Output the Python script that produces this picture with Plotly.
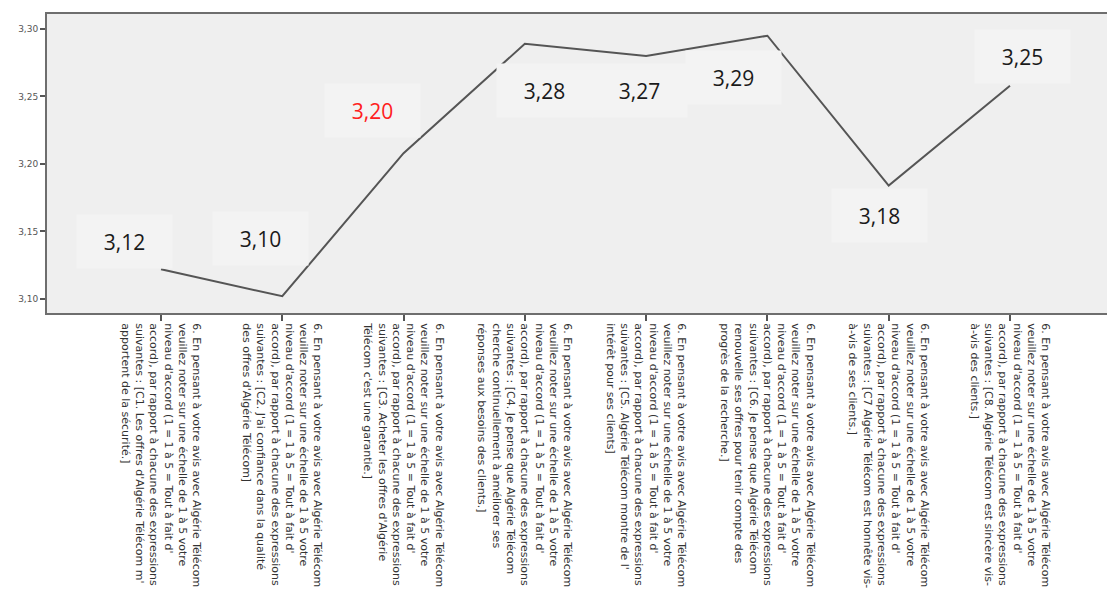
import plotly.graph_objects as go

categories = [
    "6. En pensant à votre avis avec Algérie Télécom<br>veuillez noter sur une échelle de 1 à 5 votre<br>niveau d'accord (1 = 1 à 5 = Tout à fait d'<br>accord), par rapport à chacune des expressions<br>suivantes : [C1. Les offres d'Algérie Télécom m'<br>apportent de la sécurité.]",
    "6. En pensant à votre avis avec Algérie Télécom<br>veuillez noter sur une échelle de 1 à 5 votre<br>niveau d'accord (1 = 1 à 5 = Tout à fait d'<br>accord), par rapport à chacune des expressions<br>suivantes : [C2. J'ai confiance dans la qualité<br>des offres d'Algérie Télécom]",
    "6. En pensant à votre avis avec Algérie Télécom<br>veuillez noter sur une échelle de 1 à 5 votre<br>niveau d'accord (1 = 1 à 5 = Tout à fait d'<br>accord), par rapport à chacune des expressions<br>suivantes : [C3. Acheter les offres d'Algérie<br>Télécom c'est une garantie.]",
    "6. En pensant à votre avis avec Algérie Télécom<br>veuillez noter sur une échelle de 1 à 5 votre<br>niveau d'accord (1 = 1 à 5 = Tout à fait d'<br>accord), par rapport à chacune des expressions<br>suivantes : [C4. Je pense que Algérie Télécom<br>cherche continuellement à améliorer ses<br>réponses aux besoins des clients.]",
    "6. En pensant à votre avis avec Algérie Télécom<br>veuillez noter sur une échelle de 1 à 5 votre<br>niveau d'accord (1 = 1 à 5 = Tout à fait d'<br>accord), par rapport à chacune des expressions<br>suivantes : [C5. Algérie Télécom montre de l'<br>intérêt pour ses clients]",
    "6. En pensant à votre avis avec Algérie Télécom<br>veuillez noter sur une échelle de 1 à 5 votre<br>niveau d'accord (1 = 1 à 5 = Tout à fait d'<br>accord), par rapport à chacune des expressions<br>suivantes : [C6. Je pense que Algérie Télécom<br>renouvelle ses offres pour tenir compte des<br>progrès de la recherche.]",
    "6. En pensant à votre avis avec Algérie Télécom<br>veuillez noter sur une échelle de 1 à 5 votre<br>niveau d'accord (1 = 1 à 5 = Tout à fait d'<br>accord), par rapport à chacune des expressions<br>suivantes : [C7 Algérie Télécom est honnête vis-<br>à-vis de ses clients.]",
    "6. En pensant à votre avis avec Algérie Télécom<br>veuillez noter sur une échelle de 1 à 5 votre<br>niveau d'accord (1 = 1 à 5 = Tout à fait d'<br>accord), par rapport à chacune des expressions<br>suivantes : [C8. Algérie Télécom est sincère vis-<br>à-vis des clients.]",
]
means = [3.122, 3.102, 3.208, 3.289, 3.280, 3.295, 3.184, 3.258]

label_texts = ["3,12", "3,10", "3,20", "3,28", "3,27", "3,29", "3,18", "3,25"]
label_x = [-0.30, 0.82, 1.744, 3.166, 3.949, 4.72, 5.927, 7.10]
label_y = [3.1426, 3.1448, 3.2393, 3.2548, 3.2548, 3.264, 3.1615, 3.2796]
label_colors = ["#1a1a1a", "#1a1a1a", "#ff2020", "#1a1a1a", "#1a1a1a", "#1a1a1a", "#1a1a1a", "#1a1a1a"]

y_ticks = [3.10, 3.15, 3.20, 3.25, 3.30]

fig = go.Figure()
fig.add_trace(go.Scatter(
    x=list(range(len(categories))), y=means, mode="lines",
    line=dict(color="#555555", width=2), hoverinfo="skip", showlegend=False,
))

for t, x, y, c in zip(label_texts, label_x, label_y, label_colors):
    fig.add_annotation(
        x=x, y=y, xref="x", yref="y", text=t, showarrow=False,
        font=dict(family="Open Sans", size=21, color=c),
        bgcolor="#f3f3f3", width=95, height=53, borderpad=0,
    )

fig.update_layout(
    width=1107, height=591,
    margin=dict(l=47, r=0, t=14, b=278),
    paper_bgcolor="white", plot_bgcolor="#efefef",
    separators=", ",
    showlegend=False,
    xaxis=dict(
        tickmode="array", tickvals=list(range(len(categories))), ticktext=categories,
        range=[-0.94, 7.8], tickangle=90, showgrid=False, zeroline=False,
        showline=True, linecolor="#6e6e6e", linewidth=2, mirror=True,
        ticks="outside", ticklen=6, tickcolor="#555555", tickwidth=1.5,
        tickfont=dict(family="DejaVu Sans", size=11, color="#333333"),
        automargin=False,
    ),
    yaxis=dict(
        range=[3.0896, 3.3111], tickvals=y_ticks, tickformat=".2f",
        showgrid=False, zeroline=False,
        showline=True, linecolor="#6e6e6e", linewidth=2,
        ticks="outside", ticklen=5, tickcolor="#555555", tickwidth=1.5,
        tickfont=dict(family="DejaVu Sans", size=9, color="#555555"),
        automargin=False,
    ),
)

fig.write_html("out.html")
